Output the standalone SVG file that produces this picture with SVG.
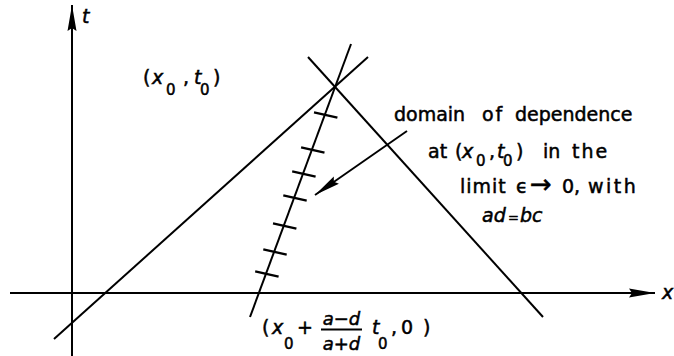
<svg xmlns="http://www.w3.org/2000/svg" width="674" height="356" viewBox="0 0 674 356">
<style>
.ln{stroke:#000;stroke-width:2;fill:none;stroke-linecap:butt}
.tk{stroke:#000;stroke-width:2.4;fill:none}
text{font-family:"DejaVu Sans","Liberation Sans",sans-serif;font-size:19px;fill:#000;stroke:#000;stroke-width:0.5}
.it{font-style:italic}
.sub{font-size:15px}
</style>
<defs>
<marker id="arrow" viewBox="0 0 26 10" refX="26" refY="5" markerWidth="26" markerHeight="10" markerUnits="userSpaceOnUse" orient="auto">
<path d="M0,0.5 L26,5 L0,9.5 L3,5 Z" fill="#000"/>
</marker>
</defs>
<rect width="674" height="356" fill="#fff"/>
<g id="axes">
<line id="t-axis" class="ln" x1="72" y1="356" x2="72" y2="5" marker-end="url(#arrow)"/>
<line id="x-axis" class="ln" x1="10" y1="293" x2="655" y2="293" marker-end="url(#arrow)"/>
<text id="t-label" class="it" x="82" y="23">t</text>
<text id="x-label" class="it" x="662" y="299">x</text>
</g>
<g id="connectors">
<line id="char-left" class="ln" x1="54" y1="339" x2="368" y2="57"/>
<line id="char-right" class="ln" x1="308" y1="57" x2="543" y2="317"/>
<line id="char-ticked" class="ln" x1="351" y1="44" x2="250" y2="317"/>
<g id="ticks" class="tk">
<line x1="314" y1="112.4" x2="337.4" y2="117.6"/>
<line x1="301.1" y1="147.4" x2="324.5" y2="152.6"/>
<line x1="292.2" y1="171.4" x2="315.6" y2="176.6"/>
<line x1="283.3" y1="195.4" x2="306.7" y2="200.6"/>
<line x1="273" y1="223.4" x2="296.4" y2="228.6"/>
<line x1="263.3" y1="249.4" x2="286.7" y2="254.6"/>
<line x1="255.2" y1="271.4" x2="278.6" y2="276.6"/>
</g>
<line id="pointer" class="ln" x1="407" y1="131" x2="315" y2="195" marker-end="url(#arrow)"/>
</g>
<g id="point-label">
<text x="143" y="84">(<tspan class="it" x="152">x</tspan><tspan class="sub" x="166" y="95">0</tspan><tspan x="183" y="84">,</tspan><tspan class="it" x="194">t</tspan><tspan class="sub" x="200" y="95">0</tspan><tspan x="213" y="84">)</tspan></text>
</g>
<g id="domain-label">
<text x="394" y="121">domain <tspan x="482" letter-spacing="2">of</tspan> <tspan x="515">dependence</tspan></text>
<text x="428" y="158">at <tspan x="455">(</tspan><tspan class="it" x="462">x</tspan><tspan class="sub" x="476" y="166">0</tspan><tspan x="489" y="158">,</tspan><tspan class="it" x="497">t</tspan><tspan class="sub" x="503" y="166">0</tspan><tspan x="516" y="158">)</tspan> <tspan x="543">in</tspan> <tspan x="572" letter-spacing="2">the</tspan></text>
<text x="460" y="193"><tspan letter-spacing="1">limit</tspan> <tspan x="516">ϵ</tspan> <tspan x="530" style="font-size:26px">→</tspan> <tspan x="562">0,</tspan> <tspan x="588" letter-spacing="2.5">with</tspan></text>
<text x="482" y="222"><tspan class="it">ad</tspan><tspan x="508" style="font-size:13px">=</tspan><tspan class="it" x="520">bc</tspan></text>
</g>
<g id="foot-label">
<text x="262" y="334">(<tspan class="it" x="272">x</tspan><tspan class="sub" x="284" y="349">0</tspan><tspan x="297" y="334">+</tspan></text>
<text class="it" x="341.5" y="325" text-anchor="middle" style="font-size:18px">a−d</text>
<line class="ln" x1="321" y1="329.5" x2="362" y2="329.5"/>
<text class="it" x="341.5" y="350" text-anchor="middle" style="font-size:18px">a+d</text>
<text x="372" y="334"><tspan class="it">t</tspan><tspan class="sub" x="378" y="349">0</tspan><tspan x="391" y="334">,</tspan><tspan x="401">0</tspan><tspan x="423">)</tspan></text>
</g>
</svg>
